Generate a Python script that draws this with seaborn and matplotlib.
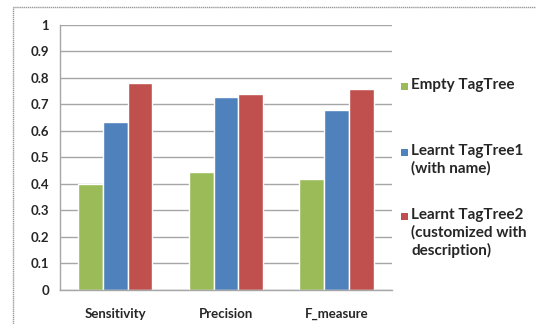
"""
Grouped bar chart: TagTree evaluation (sensitivity / precision / F-measure)
"""

import matplotlib.pyplot as plt
import matplotlib.patches as mpatches
import pandas as pd
import seaborn as sns

categories = ["Sensitivity", "Precision", "F_measure"]
series_names = [
    "Empty TagTree",
    "Learnt TagTree1\n(with name)",
    "Learnt TagTree2\n(customized with\ndescription)",
]
empty_tagtree = [0.40, 0.445, 0.42]
learnt_tagtree1 = [0.635, 0.73, 0.68]
learnt_tagtree2 = [0.78, 0.74, 0.76]
y_ticks = [0, 0.1, 0.2, 0.3, 0.4, 0.5, 0.6, 0.7, 0.8, 0.9, 1]
y_tick_labels = ["0", "0.1", "0.2", "0.3", "0.4", "0.5", "0.6", "0.7", "0.8", "0.9", "1"]

colors = ["#9BBB59", "#4F81BD", "#C0504D"]

sns.set_style("white")
plt.rcParams["font.family"] = ["Lato", "DejaVu Sans"]

rows = []
for name, values in zip(series_names, [empty_tagtree, learnt_tagtree1, learnt_tagtree2]):
    for cat, v in zip(categories, values):
        rows.append({"metric": cat, "series": name, "value": v})
df = pd.DataFrame(rows)

W, H = 536, 324
fig = plt.figure(figsize=(W / 100, H / 100), dpi=100)
ax = fig.add_axes([0.112, 0.105, 0.619, 0.818])

sns.barplot(
    data=df,
    x="metric",
    y="value",
    hue="series",
    hue_order=series_names,
    palette=colors,
    width=0.67,
    saturation=1,
    ax=ax,
    legend=False,
)

ax.set_ylim(0, 1)
ax.set_yticks(y_ticks)
ax.set_yticklabels(y_tick_labels)
ax.set_xlabel("")
ax.set_ylabel("")
ax.yaxis.grid(True, color="#A6A6A6", linewidth=1)
ax.set_axisbelow(True)
ax.tick_params(axis="both", length=0, labelsize=9.5)
ax.tick_params(axis="y", pad=8)
ax.tick_params(axis="x", pad=13)
for lbl in ax.get_xticklabels() + ax.get_yticklabels():
    lbl.set_fontweight("bold")
    lbl.set_color("#262626")

for side in ["top", "right"]:
    ax.spines[side].set_visible(False)
for side in ["left", "bottom"]:
    ax.spines[side].set_color("#A6A6A6")
    ax.spines[side].set_linewidth(1)

# legend: square marker aligned with first line of each label
legend_rows = [86, 152, 216]  # pixel y of first text line
for name, c, py in zip(series_names, colors, legend_rows):
    fig.patches.append(
        mpatches.Rectangle(
            (401 / W, 1 - (py + 3.5) / H), 7 / W, 7 / H,
            transform=fig.transFigure, facecolor=c, edgecolor="none",
        )
    )
    fig.text(
        411 / W, 1 - (py - 7.5) / H, name,
        ha="left", va="top", fontsize=11, fontweight="bold",
        color="#262626", linespacing=1.25,
    )

# outer chart border
fig.patches.append(
    mpatches.Rectangle(
        (13 / W, -0.1), 1.2, 1.1 - 7 / H,
        transform=fig.transFigure, fill=False,
        edgecolor="#9A9A9A", linewidth=1, linestyle=(0, (1, 0.5)),
    )
)

fig.savefig("out.png", dpi=100)
plt.close(fig)
